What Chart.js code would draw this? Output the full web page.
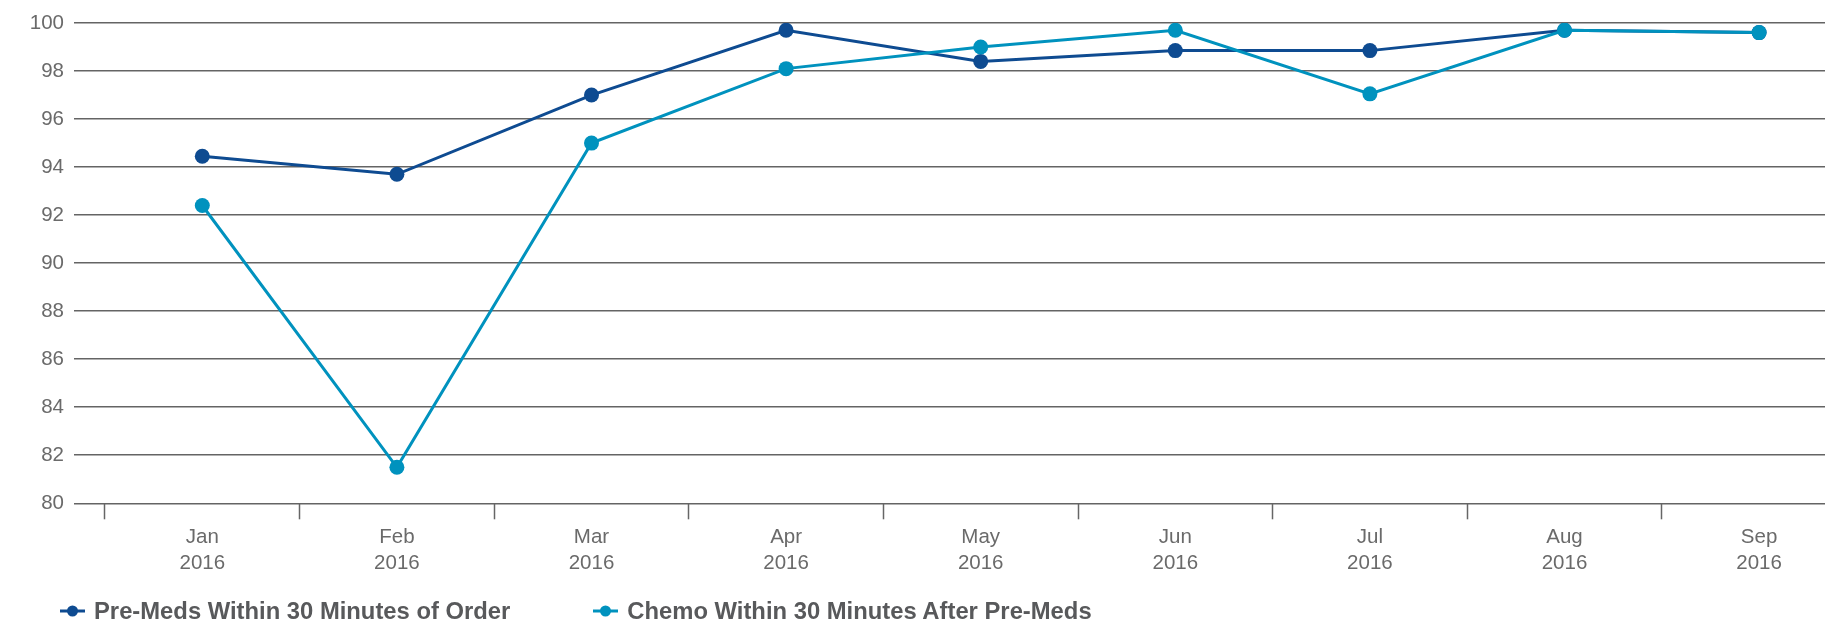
<!DOCTYPE html>
<html>
<head>
<meta charset="utf-8">
<script src="https://cdn.jsdelivr.net/npm/chart.js@4"></script>
<style>
  html, body { margin: 0; padding: 0; background: #ffffff; overflow: hidden; }
  #wrap { position: relative; width: 1825px; height: 622px; overflow: hidden; }
  #chart { position: absolute; left: 0; top: 0; }
  #legend {
    position: absolute; left: 60px; top: 598px; height: 25px;
    display: flex; align-items: center;
    font-family: 'Liberation Sans', Arial, sans-serif;
    font-weight: bold; font-size: 23.8px; color: #58595b; white-space: nowrap;
  }
  .item { display: flex; align-items: center; }
  .item + .item { margin-left: 83px; }
  .item svg { display: block; margin-right: 9px; }
</style>
</head>
<body>
<div id="wrap">
  <canvas id="chart" width="1825" height="622"></canvas>
  <div id="legend"></div>
</div>
<script>
// Monthly compliance rates (%)
const months = ['Jan', 'Feb', 'Mar', 'Apr', 'May', 'Jun', 'Jul', 'Aug', 'Sep'];
const years  = ['2016', '2016', '2016', '2016', '2016', '2016', '2016', '2016', '2016'];
const preMedsWithin30 = [94.45, 93.7, 97.0, 99.7, 98.4, 98.85, 98.85, 99.7, 99.6];
const chemoAfterPreMeds = [92.4, 81.5, 95.0, 98.1, 99.0, 99.7, 97.05, 99.7, 99.6];
const seriesNames = ['Pre-Meds Within 30 Minutes of Order', 'Chemo Within 30 Minutes After Pre-Meds'];
const yMin = 80, yMax = 100, yStep = 2;

const DARK = '#0e4b91';
const LIGHT = '#0092be';
const seriesColors = [DARK, LIGHT];
const GRID = '#646464';
const TEXT = '#6a6a6a';

Chart.defaults.font.family = "'Liberation Sans', Arial, sans-serif";

const toPoints = arr => arr.map((v, i) => ({ x: i, y: v }));

const chart = new Chart(document.getElementById('chart'), {
  type: 'line',
  data: {
    datasets: [
      {
        label: seriesNames[0],
        data: toPoints(preMedsWithin30),
        borderColor: DARK,
        backgroundColor: DARK,
        pointBackgroundColor: DARK,
        borderWidth: 3,
        pointRadius: 7.5,
        pointBorderWidth: 0,
        tension: 0,
        order: 2
      },
      {
        label: seriesNames[1],
        data: toPoints(chemoAfterPreMeds),
        borderColor: LIGHT,
        backgroundColor: LIGHT,
        pointBackgroundColor: LIGHT,
        borderWidth: 3,
        pointRadius: 7.5,
        pointBorderWidth: 0,
        tension: 0,
        order: 1
      }
    ]
  },
  options: {
    responsive: false,
    animation: false,
    layout: { autoPadding: false, padding: { top: 23, left: 0, right: 0, bottom: 0 } },
    plugins: {
      tooltip: { enabled: false },
      legend: { display: false }
    },
    scales: {
      x: {
        type: 'linear',
        min: -0.6593,
        max: 8.3386,
        border: { display: false },
        grid: {
          drawOnChartArea: false,
          drawTicks: true,
          tickLength: 16,
          tickWidth: 1.5,
          tickColor: ctx => (ctx.tick && Number.isInteger(ctx.tick.value)) ? 'rgba(0,0,0,0)' : '#666666'
        },
        afterBuildTicks(scale) {
          // month boundaries carry the tick marks, month centres carry the labels
          const ticks = [];
          for (let i = 0; i < months.length; i++) {
            ticks.push({ value: i - 0.5 });
            ticks.push({ value: i });
          }
          scale.ticks = ticks.filter(t => t.value >= scale.min && t.value <= scale.max);
        },
        afterFit(scale) {
          scale.height = 118.7;
          scale.paddingLeft = 0;
          scale.paddingRight = 0;
        },
        ticks: {
          autoSkip: false,
          maxRotation: 0,
          minRotation: 0,
          padding: 5,
          color: TEXT,
          font: { size: 20.5, lineHeight: 1.27 },
          callback: v => Number.isInteger(v) ? [months[v], years[v]] : ''
        }
      },
      y: {
        min: yMin,
        max: yMax,
        border: { display: false },
        grid: { color: GRID, lineWidth: 1.6, drawTicks: false },
        afterFit(scale) { scale.width = 74; },
        ticks: {
          stepSize: yStep,
          padding: 10,
          color: TEXT,
          font: { size: 20.5 }
        }
      }
    }
  }
});

// Legend: line-and-dot marker followed by the series name
const legendEl = document.getElementById('legend');
chart.data.datasets.forEach((ds, i) => {
  const item = document.createElement('div');
  item.className = 'item';
  const color = seriesColors[i];
  item.innerHTML =
    '<svg width="25" height="12" viewBox="0 0 25 12">' +
    '<line x1="0" y1="6" x2="25" y2="6" stroke="' + color + '" stroke-width="3"/>' +
    '<circle cx="12.5" cy="6" r="5.5" fill="' + color + '"/></svg>';
  const label = document.createElement('span');
  label.textContent = ds.label;
  item.appendChild(label);
  legendEl.appendChild(item);
});
</script>
</body>
</html>
